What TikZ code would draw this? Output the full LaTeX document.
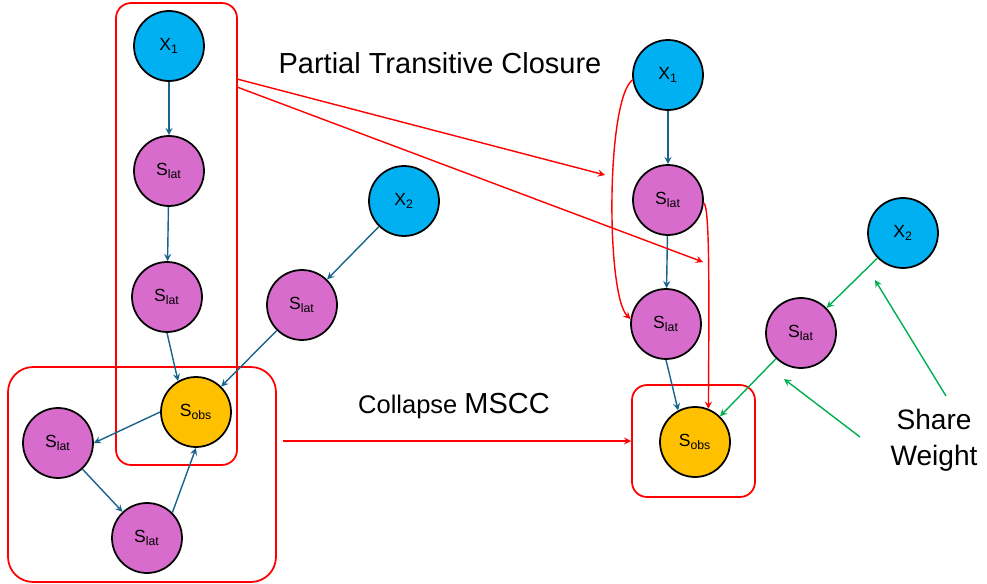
\documentclass[tikz,border=0pt]{standalone}
\usepackage{fontspec}
\setmainfont{Liberation Sans}

\definecolor{xblue}{RGB}{0,176,240}
\definecolor{latpink}{RGB}{216,108,204}
\definecolor{obsgold}{RGB}{255,192,0}
\definecolor{depteal}{RGB}{25,100,140}
\definecolor{sharegreen}{RGB}{0,176,80}

\begin{document}
\begin{tikzpicture}
            [x=0.02cm, y=-0.02cm, ->, >=stealth,
             var/.style={shape=circle, draw=black, line width=1pt, minimum size=1.4cm, inner sep=0pt, font=\fontsize{10}{12}\selectfont},
             xvar/.style={var, fill=xblue},
             latvar/.style={var, fill=latpink},
             obsvar/.style={var, fill=obsgold},
             group/.style={shape=rectangle, draw=red, line width=1pt, inner sep=0pt},
             dep/.style={color=depteal, line width=0.8pt},
             closure/.style={color=red, line width=0.8pt},
             shared/.style={color=sharegreen, line width=0.8pt}]
            \useasboundingbox (0,0) rectangle (987,584);

            % groups
            \node[group, rounded corners=0.3cm, minimum width=2.42cm, minimum height=9.24cm] (chain) at (176.5, 234) {};
            \node[group, rounded corners=0.5cm, minimum width=5.36cm, minimum height=4.3cm] (mscc) at (142, 474.5) {};
            \node[group, rounded corners=0.3cm, minimum width=2.46cm, minimum height=2.24cm] (collapsed) at (693.5, 441) {};

            % left graph
            \node[xvar] (lx1) at (169, 46) {X\textsubscript{1}};
            \node[latvar] (ls1) at (169, 171) {S\textsubscript{lat}};
            \node[latvar] (ls2) at (167, 297) {S\textsubscript{lat}};
            \node[obsvar] (lobs) at (196, 412) {S\textsubscript{obs}};
            \node[latvar] (lsa) at (58, 443) {S\textsubscript{lat}};
            \node[latvar] (lsb) at (147, 538) {S\textsubscript{lat}};
            \node[xvar] (lx2) at (404, 201) {X\textsubscript{2}};
            \node[latvar] (ls3) at (302, 305) {S\textsubscript{lat}};

            % right graph
            \node[xvar] (rx1) at (668, 75) {X\textsubscript{1}};
            \node[latvar] (rs1) at (668, 200) {S\textsubscript{lat}};
            \node[latvar] (rs2) at (666, 324) {S\textsubscript{lat}};
            \node[obsvar] (robs) at (695, 442) {S\textsubscript{obs}};
            \node[xvar] (rx2) at (903, 233) {X\textsubscript{2}};
            \node[latvar] (rs3) at (801, 333) {S\textsubscript{lat}};

            % labels
            \node[anchor=base, font=\fontsize{16.5}{20}\selectfont] (ptc) at (440, 74) {Partial Transitive Closure};
            \node[anchor=base] (collapse) at (454, 413) {\fontsize{14.5}{18}\selectfont Collapse \fontsize{16.5}{20}\selectfont MSCC};
            \node[align=center, font=\fontsize{16}{20.5}\selectfont] (share) at (934, 440) {Share\\Weight};

            \coordinate (ptcA) at (237, 79);
            \coordinate (ptcAend) at (605, 175);
            \coordinate (ptcB) at (237, 87);
            \coordinate (ptcBend) at (703, 262);
            \coordinate (colstart) at (283, 441);
            \coordinate (shareA) at (946, 396);
            \coordinate (shareAend) at (875, 280);
            \coordinate (shareB) at (860, 437);
            \coordinate (shareBend) at (784, 379);

            % left edges
            \path [dep] (lx1) edge (ls1);
            \path [dep] (ls1) edge (ls2);
            \path [dep] (ls2.south) edge (lobs.120);
            \path [dep] (lx2) edge (ls3);
            \path [dep] (ls3) edge (lobs);
            \path [dep] (lobs.west) edge (lsa.east);
            \path [dep] (lsa) edge (lsb);
            \path [dep] (lsb.45) edge (lobs.south);

            % right edges
            \path [dep] (rx1) edge (rs1);
            \path [dep] (rs1) edge (rs2);
            \path [dep] (rs2.south) edge (robs.118);
            \path [shared] (rx2) edge (rs3);
            \path [shared] (rs3) edge (robs);

            % transformations
            \path [closure] (ptcA) edge (ptcAend);
            \path [closure] (ptcB) edge (ptcBend);
            \path [closure] (colstart) edge (collapsed.west);
            \draw [closure] (rx1.188) .. controls (606, 100) and (606, 295) .. (rs2.172);
            \draw [closure] (rs1.-5) .. controls (710, 205) and (709, 300) .. (robs.68);
            \path [shared] (shareA) edge (shareAend);
            \path [shared] (shareB) edge (shareBend);
        \end{tikzpicture}
\end{document}
